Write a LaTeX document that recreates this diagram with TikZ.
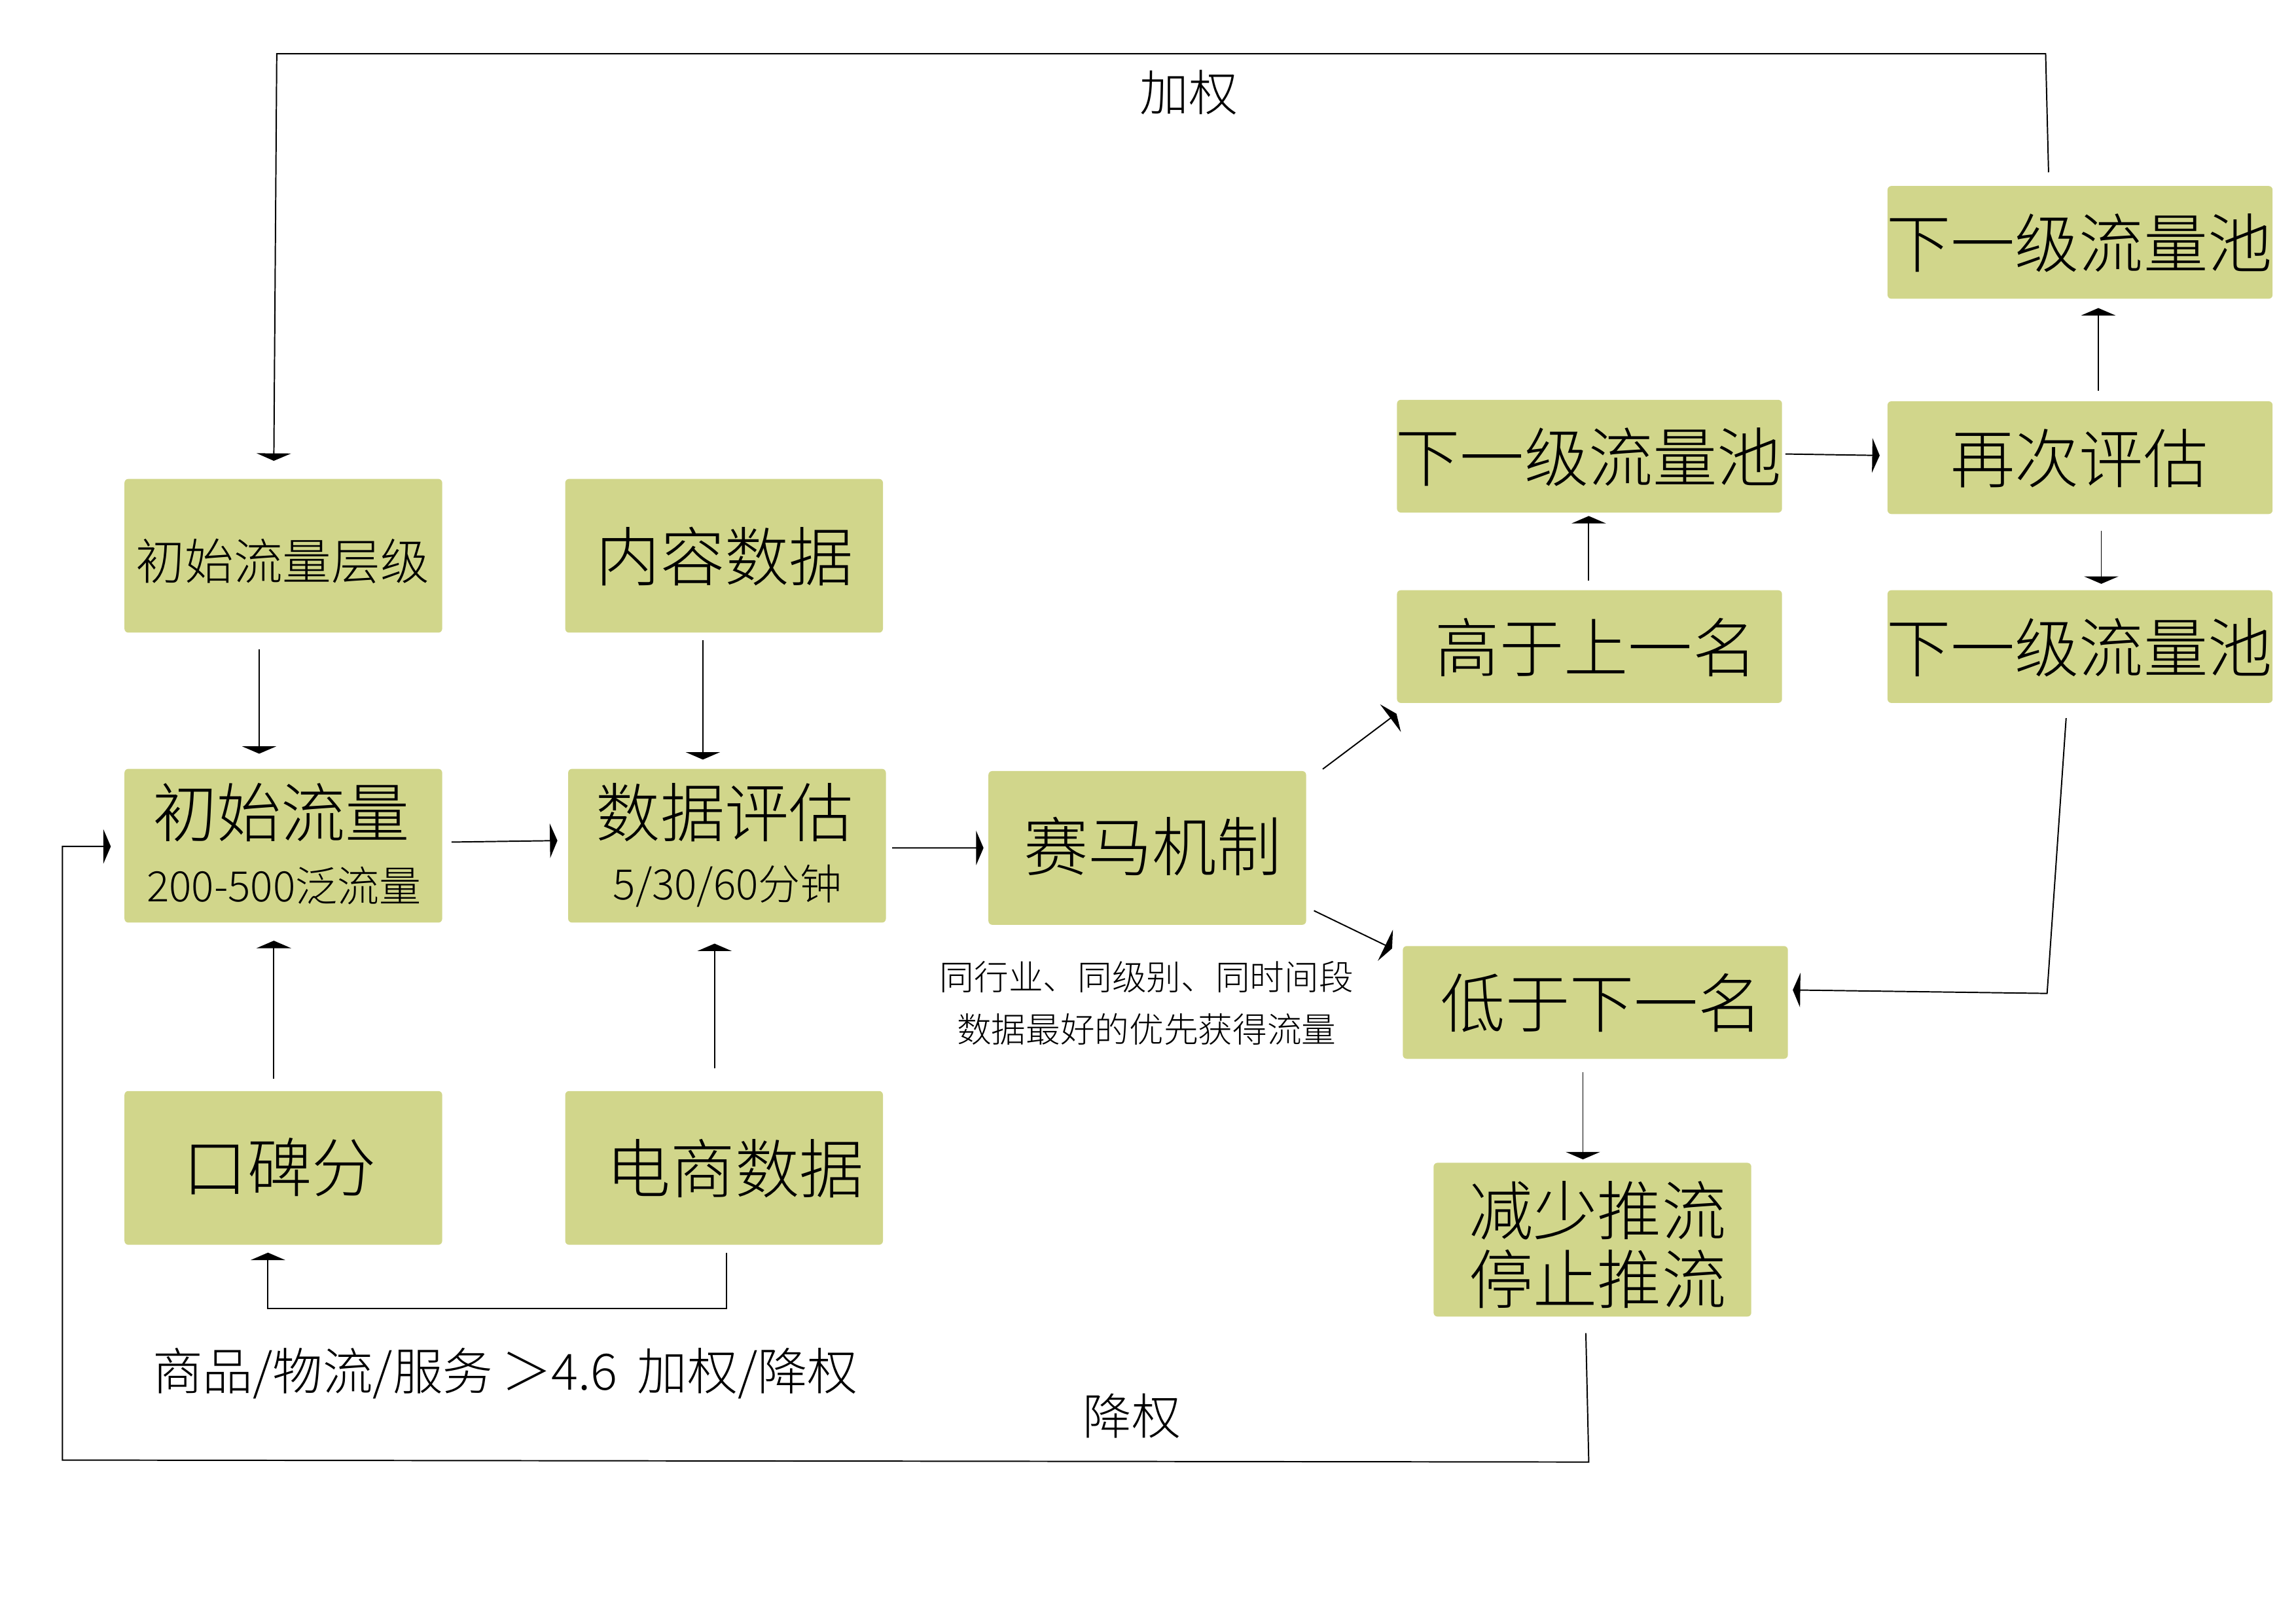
\documentclass[tikz,border=0pt]{standalone}
\usepackage{fontspec}
\setmainfont{Noto Sans CJK SC Light}
\usetikzlibrary{calc,arrows.meta}
\definecolor{boxfill}{RGB}{209,214,139}
\begin{document}
\begin{tikzpicture}[x=0.02cm,y=-0.02cm,
  box/.style={fill=boxfill, rounded corners=1.5pt, inner sep=0pt, minimum width=4.34cm, minimum height=2.1cm},
  wbox/.style={box, minimum width=5.26cm, minimum height=1.54cm},
  bigt/.style={font=\fontsize{25pt}{26.6pt}\selectfont, inner sep=0pt, align=center},
  midt/.style={font=\fontsize{19pt}{22pt}\selectfont, inner sep=0pt},
  subt/.style={font=\fontsize{16.3pt}{19pt}\selectfont, inner sep=0pt},
  smallt/.style={font=\fontsize{13.4pt}{16pt}\selectfont, inner sep=0pt},
  ln/.style={line width=0.5pt},
  arr/.style={line width=0.5pt, -{Triangle[length=2.9pt,width=13.4pt]}}
]
\path[use as bounding box] (0,0) rectangle (1568,1108.5);

% boxes
\node[box]  (b1)  at (193.5,379.5) {};
\node[box]  (b2)  at (494.5,379.5) {};
\node[box]  (b3)  at (193.5,577.5) {};
\node[box]  (b4)  at (496.5,577.5) {};
\node[box]  (b5)  at (783.5,579)   {};
\node[box]  (b6)  at (193.5,797.5) {};
\node[box]  (b7)  at (494.5,797.5) {};
\node[wbox] (b8)  at (1085.5,311.5) {};
\node[wbox] (b9)  at (1085.5,441.5) {};
\node[wbox] (b10) at (1420.5,312.5) {};
\node[wbox] (b11) at (1420.5,165.5) {};
\node[wbox] (b12) at (1420.5,441.5) {};
\node[wbox] (b13) at (1089.5,684.5) {};
\node[box]  (b14) at (1087.5,846.5) {};

% texts in boxes
\node[midt] (t1)  at (193,383) {初始流量层级};
\node[bigt] (t2)  at (495,380) {内容数据};
\node[bigt] (t3a) at (192,555) {初始流量};
\node[subt] (t3b) at (194,605) {200-500泛流量};
\node[bigt] (t4a) at (495,555) {数据评估};
\node[subt] (t4b) at (497,605) {5/30/60分钟};
\node[bigt] (t5)  at (787,578) {赛马机制};
\node[bigt] (t6)  at (191,797) {口碑分};
\node[bigt] (t7)  at (502,798) {电商数据};
\node[bigt] (t8)  at (1085,312) {下一级流量池};
\node[bigt] (t9)  at (1090,442) {高于上一名};
\node[bigt] (t10) at (1420,313) {再次评估};
\node[bigt] (t11) at (1420,166) {下一级流量池};
\node[bigt] (t12) at (1420,442) {下一级流量池};
\node[bigt] (t13) at (1094,685) {低于下一名};
\node[bigt] (t14) at (1091,850) {减少推流\\停止推流};

% free labels
\node[midt] (l1) at (812,63) {加权};
\node[midt] (l2) at (773,967) {降权};
\node[midt,font=\fontsize{19.5pt}{22pt}\selectfont] (l3) at (345,938) {商品/物流/服务\,＞4.6\, 加权/降权};
\node[smallt] (l4) at (783,667) {同行业、同级别、同时间段};
\node[smallt] (l5) at (783,703) {数据最好的优先获得流量};

% connectors
\draw[arr] ($(b1.south)+(-16.5,11)$) -- ($(b3.north)+(-16.5,-10)$);
\draw[arr] ($(b2.south)+(-14.5,5)$) -- ($(b4.north)+(-16.5,-6)$);
\draw[arr] ($(b3.east)+(6,-2.5)$) -- ($(b4.west)+(-7,-3.5)$);
\draw[arr] ($(b4.east)+(4,1.5)$) -- ($(b5.west)+(-3,0)$);
\draw[arr] ($(b6.north)+(-6.5,-8)$) -- ($(b3.south)+(-6.5,12)$);
\draw[arr] ($(b7.north)+(-6.5,-15)$) -- ($(b4.south)+(-8.5,14)$);
\draw[arr] ($(b7.south)+(1.5,5)$) -- ($(b7.south)+(1.5,43)$) -- ($(b6.south)+(-10.5,43)$) -- ($(b6.south)+(-10.5,5)$);
\draw[arr] ($(b5.north east)+(11,-1)$) -- ($(b9.south west)+(0,7)$);
\draw[arr] ($(b5.south east)+(5,-10)$) -- ($(b13.north west)+(-7,2)$);
\draw[arr] ($(b9.north)+(-0.5,-6)$) -- ($(b8.south)+(-0.5,2)$);
\draw[arr] ($(b8.east)+(2,-1.5)$) -- ($(b10.west)+(-5,-1.5)$);
\draw[arr] ($(b10.north)+(12.5,-7)$) -- ($(b11.south)+(12.5,6)$);
\draw[arr] ($(b10.south)+(14.5,11)$) -- ($(b12.north)+(14.5,-4)$);
\draw[arr] ($(b12.south)+(-9.5,10)$) -- ($(b12.south)+(-22.5,198)$) -- ($(b13.east)+(3,-8.5)$);
\draw[arr] ($(b13.south)+(-8.5,9)$) -- ($(b14.north)+(-6.5,-2)$);
\draw[arr] ($(b14.south)+(-4.5,11)$) -- ($(b14.south)+(-2.5,99)$) -- ($(b3.west)+(-42,419.5)$) -- ($(b3.west)+(-42,0.5)$) -- ($(b3.west)+(-9,0.5)$);
\draw[arr] ($(b11.north)+(-21.5,-9)$) -- ($(b11.north)+(-23.5,-90)$) -- ($(b1.north)+(-4.5,-290)$) -- ($(b1.north)+(-6.5,-12)$);
\end{tikzpicture}
\end{document}
